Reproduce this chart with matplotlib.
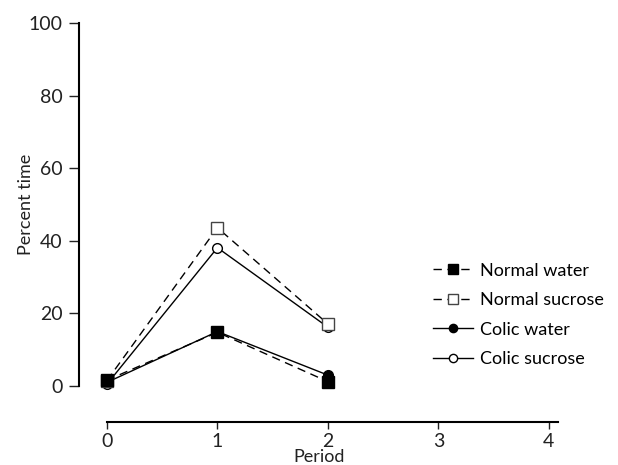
import numpy as np
import matplotlib.pyplot as plt

plt.rcParams['font.family'] = ['Lato', 'DejaVu Sans']

# datos
period = [0, 1, 2]
normal_water = [1.6, 14.8, 1.2]
normal_sucrose = [1.5, 43.6, 17.1]
colic_water = [1.0, 15.0, 3.0]
colic_sucrose = [0.5, 38.1, 16.2]

fig = plt.figure(figsize=(6.18, 4.65), dpi=100)
ax = fig.add_axes([0.1278, 0.1699, 0.906 - 0.1278, 0.9505 - 0.1699])

#series (orden de dibujo para que los cuadrados queden encima)
ax.plot(period, colic_sucrose, '-', color='black', lw=1, marker='o', ms=7,
        mfc='white', mec='black', mew=1, clip_on=False, label='Colic sucrose', zorder=3)
ax.plot(period, colic_water, '-', color='black', lw=1, marker='o', ms=7,
        mfc='black', mec='black', clip_on=False, label='Colic water', zorder=3)
ax.plot(period, normal_sucrose, '--', color='black', lw=1, dashes=(6, 4), marker='s', ms=8,
        mfc='white', mec='#444444', mew=1, clip_on=False, label='Normal sucrose', zorder=4)
ax.plot(period, normal_water, '--', color='black', lw=1, dashes=(6, 4), marker='s', ms=8,
        mfc='black', mec='black', clip_on=False, label='Normal water', zorder=4)

ax.set_ylim(0, 100)
ax.set_xlim(-0.253, 4.1)
ax.set_yticks([0, 20, 40, 60, 80, 100])
ax.set_xticks([0, 1, 2, 3, 4])

ax.spines['top'].set_visible(False)
ax.spines['right'].set_visible(False)
ax.spines['bottom'].set_position(('outward', 26))
ax.spines['bottom'].set_bounds(0, 4.08)
ax.spines['left'].set_linewidth(1.5)
ax.spines['bottom'].set_linewidth(1.5)
ax.tick_params(axis='y', direction='out', length=7, width=1, labelsize=14, pad=5, colors='#222222')
ax.tick_params(axis='x', direction='out', length=5, width=1, labelsize=14, pad=3, colors='#222222')

ax.set_xlabel('Period', fontsize=13, labelpad=-1, color='#222222')
ax.set_ylabel('Percent time', fontsize=13, labelpad=-4, color='#222222')

handles, labels = ax.get_legend_handles_labels()
order = [3, 2, 1, 0]
ax.legend([handles[i] for i in order], [labels[i] for i in order],
          loc='upper left', bbox_to_anchor=(0.675, 0.47), bbox_transform=fig.transFigure,
          frameon=False, fontsize=13, handlelength=2.2, handletextpad=0.4,
          labelspacing=0.75, markerscale=0.85)

fig.savefig('out.png', dpi=100)
